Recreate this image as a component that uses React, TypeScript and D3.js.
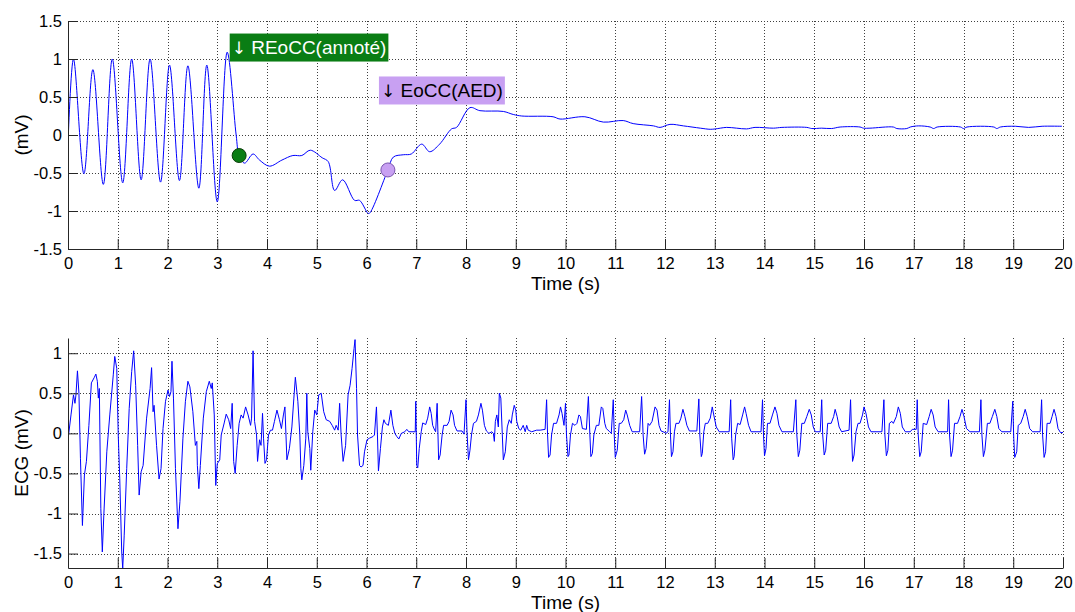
import React, { useEffect, useRef } from "react";
import * as d3 from "d3";

// Time axis (s)
const timeTicks = [0, 1, 2, 3, 4, 5, 6, 7, 8, 9, 10, 11, 12, 13, 14, 15, 16, 17, 18, 19, 20];
const timeDomain: [number, number] = [0, 20];

// Top panel: filtered compression signal (mV)
const topTicks = [-1.5, -1, -0.5, 0, 0.5, 1, 1.5];
const topDomain: [number, number] = [-1.5, 1.5];
const topSignal: [number, number][] = [
	[0.0, -0.12], [0.11, 1.0], [0.32, -0.51], [0.5, 0.86], [0.71, -0.65], [0.89, 1.0],
	[1.1, -0.63], [1.28, 1.0], [1.47, -0.59], [1.65, 1.0], [1.86, -0.62], [2.04, 0.92],
	[2.24, -0.6], [2.41, 0.91], [2.63, -0.7], [2.79, 0.92], [3.0, -0.88], [3.2, 1.09],
	[3.38, 0.0], [3.44, -0.27], [3.55, -0.37], [3.72, -0.25], [3.85, -0.33], [4.05, -0.41],
	[4.3, -0.33], [4.52, -0.27], [4.7, -0.27], [4.87, -0.2], [5.11, -0.3], [5.23, -0.35],
	[5.36, -0.73], [5.52, -0.59], [5.76, -0.86], [5.86, -0.86], [6.03, -1.03], [6.06, -1.03],
	[6.43, -0.46], [6.54, -0.29], [6.74, -0.26], [6.9, -0.25], [7.11, -0.12], [7.27, -0.22],
	[7.47, -0.12], [7.71, 0.08], [7.81, 0.1], [8.08, 0.36], [8.28, 0.32], [8.75, 0.31],
	[8.95, 0.27], [9.12, 0.25], [9.75, 0.24], [9.89, 0.21], [10.39, 0.24], [10.76, 0.17],
	[11.16, 0.19], [11.36, 0.15], [11.77, 0.12], [11.9, 0.1], [12.1, 0.14], [12.37, 0.12],
	[12.71, 0.09], [12.91, 0.075], [13.01, 0.08], [13.24, 0.1], [13.44, 0.09], [13.64, 0.08],
	[13.81, 0.1], [14.18, 0.09], [14.35, 0.1], [14.85, 0.1], [14.95, 0.085], [15.15, 0.09],
	[15.35, 0.085], [15.52, 0.105], [15.92, 0.105], [15.99, 0.09], [16.12, 0.09], [16.59, 0.105],
	[16.66, 0.085], [16.86, 0.085], [16.93, 0.105], [17.1, 0.12], [17.33, 0.105], [17.4, 0.085],
	[17.47, 0.105], [17.94, 0.105], [18.0, 0.085], [18.07, 0.105], [18.61, 0.105], [18.67, 0.085],
	[18.74, 0.105], [19.04, 0.115], [19.31, 0.1], [19.58, 0.115], [19.98, 0.115],
];

// Annotations on the top panel
const annotationLabels = ["↓ REoCC(annoté)", "↓ EoCC(AED)"];
const annotationBoxAnchors: [number, number][] = [[3.25, 1.335], [6.25, 0.77]];
const markerPoints: [number, number][] = [[3.44, -0.27], [6.43, -0.46]];

// Bottom panel: ECG (mV)
const ecgTicks = [-1.5, -1, -0.5, 0, 0.5, 1];
const ecgDomain: [number, number] = [-1.68, 1.19];
const ecgSignal: [number, number][] = [
	[0.0, -0.08], [0.06, 0.23], [0.11, 0.48], [0.14, 0.375], [0.16, 0.48], [0.19, 0.78], [0.22, 0.5],
	[0.25, -0.31], [0.29, -1.15], [0.33, -0.52], [0.37, -0.35], [0.42, 0.1], [0.47, 0.63], [0.53, 0.7],
	[0.56, 0.74], [0.59, 0.65], [0.61, 0.44], [0.63, 0.56], [0.66, -0.94], [0.69, -1.48], [0.72, -1.02],
	[0.78, -0.23], [0.84, 0.23], [0.91, 0.73], [0.94, 0.96], [0.98, 0.81], [1.01, -0.02], [1.04, -0.56],
	[1.08, -1.48], [1.1, -1.69], [1.13, -1.27], [1.18, -0.44], [1.23, 0.31], [1.28, 0.77], [1.32, 1.03],
	[1.36, 0.6], [1.4, -0.15], [1.43, -0.77], [1.47, -0.48], [1.51, -0.4], [1.58, 0.19], [1.65, 0.56],
	[1.68, 0.82], [1.71, 0.27], [1.73, 0.35], [1.78, -0.15], [1.83, -0.57], [1.87, -0.44], [1.91, 0.06],
	[1.96, 0.4], [2.01, 0.54], [2.04, 0.46], [2.07, 0.52], [2.09, 0.9], [2.12, 0.44], [2.16, -0.44],
	[2.21, -1.19], [2.25, -0.85], [2.31, -0.06], [2.36, 0.4], [2.41, 0.65], [2.45, 0.58], [2.51, 0.27],
	[2.56, -0.15], [2.59, -0.1], [2.6, -0.4], [2.63, -0.69], [2.66, -0.4], [2.72, 0.19], [2.78, 0.52],
	[2.84, 0.65], [2.88, 0.56], [2.9, 0.63], [2.94, 0.23], [2.97, -0.65], [3.0, -0.38], [3.05, -0.33],
	[3.08, -0.02], [3.14, 0.13], [3.18, 0.24], [3.23, 0.17], [3.27, 0.06],
	[3.3, 0.375], [3.33, -0.35], [3.36, -0.5], [3.4, -0.15], [3.44, 0.125], [3.48, 0.23], [3.52, 0.19],
	[3.57, 0.33], [3.62, 0.23], [3.67, 0.1], [3.69, 0.19], [3.72, 1.03], [3.75, 0.15], [3.79, -0.02],
	[3.81, -0.35], [3.85, -0.08], [3.88, -0.15], [3.91, 0.25], [3.93, -0.06], [3.96, -0.375], [3.99, -0.33],
	[4.03, -0.02], [4.07, 0.04], [4.11, 0.04], [4.15, 0.15], [4.2, 0.29], [4.25, 0.17], [4.29, 0.06],
	[4.33, 0.23], [4.36, 0.33], [4.4, -0.33], [4.45, -0.19], [4.5, 0.08], [4.54, 0.44], [4.57, 0.7],
	[4.62, 0.4], [4.66, -0.02], [4.68, -0.44], [4.7, -0.58], [4.74, -0.4], [4.78, -0.06], [4.8, 0.5],
	[4.82, 0.02], [4.86, -0.19], [4.88, -0.46], [4.92, 0.02], [4.96, 0.29], [5.0, 0.23], [5.04, 0.48],
	[5.09, 0.5], [5.14, 0.27], [5.19, 0.17], [5.26, 0.15], [5.31, 0.1], [5.36, 0.04], [5.39, 0.1],
	[5.43, 0.04], [5.46, 0.375], [5.49, -0.02], [5.53, -0.35], [5.58, -0.15], [5.63, 0.48], [5.67, 0.6],
	[5.71, 0.81], [5.75, 1.06], [5.77, 1.17], [5.8, 0.56], [5.82, -0.02], [5.86, -0.4], [5.89, -0.42],
	[5.93, -0.4], [5.96, -0.23], [6.01, -0.08], [6.06, -0.06], [6.13, -0.04], [6.16, -0.02], [6.2, 0.33],
	[6.22, -0.02], [6.24, -0.47], [6.28, -0.19], [6.32, 0.08], [6.35, 0.17], [6.38, 0.125], [6.44, 0.1],
	[6.49, 0.29], [6.53, 0.1], [6.57, 0.0],
	[6.61, -0.04], [6.65, -0.07], [6.7, 0.0], [6.77, 0.02], [6.81, 0.05], [6.85, 0.02], [6.98, 0.02],
	[6.99, 0.4], [7.01, -0.4], [7.03, -0.43], [7.06, -0.19], [7.1, 0.02], [7.13, 0.13], [7.19, 0.11],
	[7.23, 0.19], [7.27, 0.33], [7.3, 0.25], [7.33, 0.1], [7.37, 0.04], [7.39, 0.02], [7.42, 0.375],
	[7.45, -0.33], [7.48, -0.27], [7.52, -0.02], [7.55, 0.1], [7.62, 0.1], [7.66, 0.15], [7.7, 0.29],
	[7.74, 0.23], [7.77, 0.1], [7.82, 0.03], [7.92, 0.03], [7.96, -0.01], [8.0, 0.42], [8.02, 0.02],
	[8.05, -0.33], [8.08, -0.21], [8.11, -0.02], [8.15, 0.125], [8.21, 0.15], [8.25, 0.23], [8.3, 0.375],
	[8.33, 0.29], [8.37, 0.1], [8.41, 0.03], [8.46, 0.0], [8.52, 0.02], [8.55, 0.0], [8.57, -0.1],
	[8.59, 0.15], [8.62, 0.23], [8.65, 0.08], [8.67, 0.5], [8.7, 0.44], [8.73, -0.02], [8.75, -0.33],
	[8.79, -0.23], [8.83, 0.08], [8.87, 0.17], [8.91, 0.125], [8.93, 0.23], [8.97, 0.35], [9.0, 0.29],
	[9.02, 0.15], [9.06, 0.06], [9.1, 0.04], [9.15, 0.1], [9.19, 0.02], [9.22, 0.1], [9.25, 0.04],
	[9.32, 0.02], [9.42, 0.04], [9.49, 0.04], [9.59, 0.05], [9.62, 0.42], [9.64, -0.02], [9.66, -0.3],
	[9.69, -0.27], [9.72, -0.02], [9.76, 0.125], [9.82, 0.125], [9.87, 0.23], [9.9, 0.33], [9.93, 0.25],
	[9.97, 0.1],
	[10.0, 0.375], [10.02, -0.02], [10.05, -0.29], [10.07, -0.27], [10.1, -0.02], [10.14, 0.125],
	[10.19, 0.1], [10.23, 0.125], [10.27, 0.23], [10.3, 0.21], [10.34, 0.06], [10.42, 0.05], [10.46, 0.46],
	[10.49, -0.02], [10.51, -0.29], [10.54, -0.25], [10.57, -0.02], [10.62, 0.1], [10.67, 0.1], [10.72, 0.33],
	[10.75, 0.31], [10.79, 0.125], [10.82, 0.06], [10.89, 0.02], [10.92, 0.0], [10.96, 0.42], [10.98, -0.02],
	[11.0, -0.3], [11.04, -0.21], [11.08, 0.125], [11.12, 0.125], [11.17, 0.17], [11.21, 0.29], [11.24, 0.23],
	[11.29, 0.1], [11.34, 0.02], [11.49, 0.02], [11.53, 0.46], [11.56, -0.02], [11.59, -0.26], [11.62, -0.19],
	[11.66, 0.125], [11.69, 0.1], [11.74, 0.15], [11.8, 0.33], [11.84, 0.29], [11.88, 0.1], [11.92, 0.03],
	[12.0, 0.01], [12.02, 0.0], [12.06, 0.02], [12.09, 0.42], [12.11, -0.02], [12.13, -0.29], [12.16, -0.23],
	[12.19, 0.02], [12.22, 0.125], [12.28, 0.125], [12.32, 0.19], [12.36, 0.3], [12.4, 0.21], [12.44, 0.1],
	[12.49, 0.03], [12.64, 0.03], [12.68, 0.43], [12.7, -0.02], [12.73, -0.29], [12.75, -0.25], [12.78, 0.02],
	[12.81, 0.125], [12.86, 0.125], [12.91, 0.19], [12.95, 0.33], [12.98, 0.23], [13.03, 0.08], [13.09, 0.02],
	[13.29, 0.02], [13.32, 0.42], [13.34, -0.06], [13.37, -0.33], [13.39, -0.29], [13.42, -0.02],
	[13.46, 0.125], [13.51, 0.11], [13.56, 0.23], [13.6, 0.33], [13.63, 0.25], [13.68, 0.1], [13.73, 0.02],
	[13.93, 0.02], [13.96, 0.42], [13.98, -0.02], [14.0, -0.28], [14.03, -0.19], [14.06, 0.125], [14.11, 0.125],
	[14.16, 0.23], [14.21, 0.33], [14.25, 0.25], [14.29, 0.1], [14.35, 0.02], [14.58, 0.02], [14.63, 0.42],
	[14.65, -0.02], [14.68, -0.29], [14.71, -0.21], [14.75, 0.125], [14.8, 0.125], [14.85, 0.21], [14.9, 0.3],
	[14.94, 0.23], [14.98, 0.08], [15.02, 0.02], [15.12, 0.02], [15.15, 0.42], [15.17, -0.02], [15.2, -0.27],
	[15.23, -0.21], [15.27, 0.125], [15.34, 0.125], [15.39, 0.21], [15.42, 0.3], [15.46, 0.21], [15.5, 0.08],
	[15.55, 0.02], [15.7, 0.04], [15.73, 0.42], [15.75, -0.02], [15.77, -0.35], [15.8, -0.27], [15.84, 0.02],
	[15.88, 0.125], [15.92, 0.125], [15.97, 0.23], [16.0, 0.33], [16.04, 0.25], [16.09, 0.08], [16.14, 0.02],
	[16.36, 0.02], [16.4, 0.42], [16.42, -0.02], [16.45, -0.28], [16.48, -0.21], [16.51, 0.125], [16.56, 0.15],
	[16.59, 0.125], [16.65, 0.21], [16.69, 0.33], [16.73, 0.25], [16.77, 0.08], [16.83, 0.02], [16.93, 0.02],
	[16.97, 0.05], [17.05, 0.05], [17.07, 0.42], [17.09, -0.02], [17.12, -0.29], [17.15, -0.23], [17.19, 0.125],
	[17.26, 0.11], [17.31, 0.21], [17.35, 0.3], [17.39, 0.23], [17.43, 0.08], [17.49, 0.02], [17.68, 0.02],
	[17.7, 0.42], [17.72, -0.02], [17.75, -0.29], [17.78, -0.21], [17.82, 0.125], [17.88, 0.125], [17.93, 0.21],
	[17.97, 0.3], [18.01, 0.21], [18.06, 0.06], [18.13, 0.02], [18.32, 0.02], [18.35, 0.42], [18.37, -0.02],
	[18.4, -0.29], [18.43, -0.21], [18.48, 0.125], [18.53, 0.125], [18.58, 0.21], [18.63, 0.3], [18.67, 0.21],
	[18.71, 0.06], [18.77, 0.02], [18.95, 0.02], [18.99, 0.4], [19.01, -0.06], [19.03, -0.3], [19.07, -0.23],
	[19.1, 0.1], [19.15, 0.125], [19.2, 0.21], [19.24, 0.3], [19.28, 0.21], [19.33, 0.06], [19.39, 0.02],
	[19.54, 0.02], [19.57, 0.42], [19.59, -0.02], [19.62, -0.3], [19.65, -0.23], [19.68, 0.125], [19.74, 0.125],
	[19.78, 0.21], [19.82, 0.3], [19.86, 0.21], [19.9, 0.06], [19.95, 0.01], [20.0, 0.01],
];

const FONT = "'Liberation Sans', Arial, Helvetica, sans-serif";
const ARROW_FONT = "'DejaVu Sans', sans-serif";
const AXIS_COLOR = "#262626";
const TRACE_COLOR = "#0000ff";
const annotationFills = ["#0a7d14", "#c8a0f2"];
const annotationText = ["#ffffff", "#000000"];
const markerStroke = ["#0b3d0b", "#7a55b0"];

const fmt = (v: number) => String(v);

type Panel = {
	id: string;
	top: number;
	bottom: number;
	yDomain: [number, number];
	yTicks: number[];
	yLabel: string;
	data: [number, number][];
	curve: d3.CurveFactory;
};

const App: React.FC = () => {
	const svgRef = useRef<SVGSVGElement>(null);

	useEffect(() => {
		if (!svgRef.current) return;
		const svg = d3.select(svgRef.current);
		svg.selectAll("*").remove();

		const left = 68;
		const right = 1063;
		const x = d3.scaleLinear().domain(timeDomain).range([left, right]);

		const panels: Panel[] = [
			{ id: "top", top: 21, bottom: 249, yDomain: topDomain, yTicks: topTicks, yLabel: "(mV)", data: topSignal, curve: d3.curveCatmullRom.alpha(0.5) },
			{ id: "ecg", top: 338, bottom: 568, yDomain: ecgDomain, yTicks: ecgTicks, yLabel: "ECG (mV)", data: ecgSignal, curve: d3.curveLinear },
		];

		const scales: { [key: string]: d3.ScaleLinear<number, number> } = {};

		panels.forEach((p) => {
			const y = d3.scaleLinear().domain(p.yDomain).range([p.bottom, p.top]);
			scales[p.id] = y;
			const g = svg.append("g");

			// dotted grid
			const grid = g.append("g").attr("stroke", "#000").attr("stroke-width", 1).attr("stroke-dasharray", "1,2").attr("opacity", 0.75);
			timeTicks.filter((t) => t !== timeDomain[0]).forEach((t) => {
				grid.append("line")
					.attr("x1", Math.round(x(t)) + 0.5).attr("x2", Math.round(x(t)) + 0.5)
					.attr("y1", p.top).attr("y2", p.bottom);
			});
			p.yTicks.filter((v) => v !== p.yDomain[0]).forEach((v) => {
				grid.append("line")
					.attr("x1", left).attr("x2", right)
					.attr("y1", Math.round(y(v)) + 0.5).attr("y2", Math.round(y(v)) + 0.5);
			});

			// trace
			svg.append("clipPath").attr("id", `clip-${p.id}`)
				.append("rect").attr("x", left).attr("y", p.top).attr("width", right - left).attr("height", p.bottom - p.top);
			const line = d3.line<[number, number]>().x((d) => x(d[0])).y((d) => y(d[1])).curve(p.curve);
			g.append("path")
				.datum(p.data)
				.attr("clip-path", `url(#clip-${p.id})`)
				.attr("fill", "none")
				.attr("stroke", TRACE_COLOR)
				.attr("stroke-width", 1)
				.attr("stroke-linejoin", "round")
				.attr("d", line);

			// axes
			const xAxis = g.append("g")
				.attr("transform", `translate(0,${p.bottom})`)
				.call(d3.axisBottom(x).tickValues(timeTicks).tickFormat((d) => fmt(+d)).tickSizeInner(-10).tickSizeOuter(0).tickPadding(8));
			const yAxis = g.append("g")
				.attr("transform", `translate(${left},0)`)
				.call(d3.axisLeft(y).tickValues(p.yTicks).tickFormat((d) => fmt(+d)).tickSizeInner(-10).tickSizeOuter(0).tickPadding(6));
			[xAxis, yAxis].forEach((a) => {
				a.attr("color", AXIS_COLOR);
				a.selectAll("text").attr("fill", "#000").attr("font-family", FONT).attr("font-size", 16.5);
			});

			// labels
			g.append("text")
				.attr("x", (left + right) / 2)
				.attr("y", p.bottom + 41)
				.attr("text-anchor", "middle")
				.attr("font-family", FONT)
				.attr("font-size", 19)
				.text("Time (s)");
			g.append("text")
				.attr("transform", `translate(28,${(p.top + p.bottom) / 2}) rotate(-90)`)
				.attr("text-anchor", "middle")
				.attr("font-family", FONT)
				.attr("font-size", 19)
				.text(p.yLabel);
		});

		// annotations on the top panel
		const yTop = scales["top"];
		const ann = svg.append("g");
		markerPoints.forEach((m, i) => {
			ann.append("circle")
				.attr("cx", x(m[0]))
				.attr("cy", yTop(m[1]))
				.attr("r", 7)
				.attr("fill", annotationFills[i])
				.attr("stroke", markerStroke[i])
				.attr("stroke-width", 1);
		});
		annotationLabels.forEach((label, i) => {
			const bx = x(annotationBoxAnchors[i][0]);
			const by = yTop(annotationBoxAnchors[i][1]);
			const box = ann.append("rect").attr("x", bx).attr("y", by).attr("height", 28).attr("fill", annotationFills[i]);
			const txt = ann.append("text")
				.attr("x", bx + 2)
				.attr("y", by + 20.5)
				.attr("font-family", FONT)
				.attr("font-size", 19)
				.attr("fill", annotationText[i]);
			// the arrow glyph is taken from DejaVu, which draws it full size
			txt.append("tspan").attr("font-family", ARROW_FONT).attr("font-size", 17).text(label.slice(0, 1));
			txt.append("tspan").text(label.slice(1));
			const w = (txt.node() as SVGTextElement).getComputedTextLength();
			box.attr("width", w + 4);
		});
	}, []);

	return (
		<div style={{ position: "fixed", left: 0, top: 0, width: 1075, height: 612, background: "#fff" }}>
			<svg ref={svgRef} width={1075} height={612} style={{ display: "block" }} />
		</div>
	);
};

export default App;
